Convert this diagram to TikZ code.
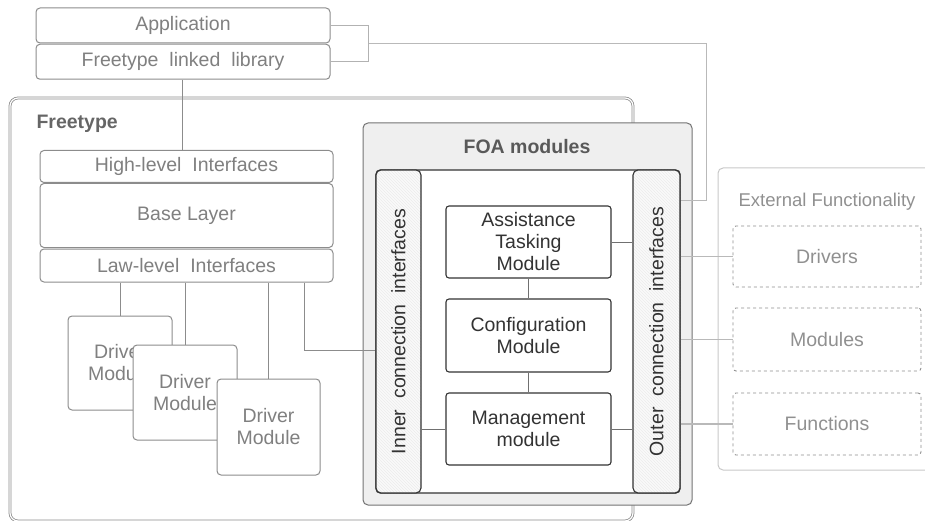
\documentclass[tikz,border=0pt]{standalone}
\usepackage{fontspec}
\setmainfont{Liberation Sans}
\usetikzlibrary{patterns,calc}
\definecolor{txtgray}{HTML}{808080}
\definecolor{boxgray}{HTML}{8C8C8C}
\definecolor{darkline}{HTML}{333333}
\definecolor{darktxt}{HTML}{333333}
\definecolor{foafill}{HTML}{EFEFEF}
\definecolor{extgray}{HTML}{C8C8C8}
\definecolor{dashgray}{HTML}{8F8F8F}
\definecolor{exttxt}{HTML}{909090}
\newcommand\wgap{\hspace{0.28em}}
\begin{document}
\begin{tikzpicture}[x=1pt,y=-1pt,
  font=\fontsize{19.5}{22}\selectfont,
  lbox/.style={draw=boxgray, line width=1pt, rounded corners=4pt, fill=white, inner sep=0pt, text=txtgray, align=center},
  mbox/.style={draw=darkline, line width=1.1pt, rounded corners=3pt, fill=white, align=center, text=darktxt, inner sep=0pt, minimum width=165pt},
  barbox/.style={draw=darkline, line width=1.1pt, rounded corners=5pt, preaction={fill=gray!4}, pattern=north west lines, pattern color=gray!15, inner sep=0pt},
  dbox/.style={draw=dashgray, dashed, line width=0.9pt, rounded corners=3pt, text=exttxt, inner sep=0pt, minimum width=188pt},
  conn/.style={draw=boxgray, line width=1pt},
  dconn/.style={draw=darkline!70, line width=1pt},
  extconn/.style={draw=gray!55, line width=1.3pt},
]
\useasboundingbox (0,0) rectangle (925,521);

% Freetype frame
\node[draw=boxgray, double=white, double distance=1.2pt, line width=0.8pt, rounded corners=8pt,
      minimum width=623pt, minimum height=423pt, inner sep=0pt] (ft) at (321.5,309.5) {};
\node[anchor=west, font=\fontsize{19.5}{22}\selectfont\bfseries, text=black!60] (ftlabel) at (33,124) {Freetype};

% Application stack
\node[lbox, minimum width=294pt, minimum height=35pt] (app) at (183,25.5) {Application};
\node[lbox, minimum width=294pt, minimum height=35pt] (lib) at (183,61.75) {Freetype\wgap{} linked\wgap{} library};

% Freetype layers
\node[lbox, minimum width=293pt, minimum height=32pt] (hl) at (186.5,166.5) {High-level\wgap{} Interfaces};
\node[lbox, minimum width=293pt, minimum height=64pt] (base) at (186.5,215.5) {Base Layer};
\node[lbox, minimum width=293pt, minimum height=33pt] (ll) at (186.5,265.5) {Law-level\wgap{} Interfaces};

\draw[conn] (lib.south -| 182,0) -- (hl.north -| 182,0);

% Driver modules
\node[lbox, minimum width=104pt, minimum height=94pt] (d1) at (120,363) {Driver\\Module};
\node[lbox, minimum width=104pt, minimum height=95pt] (d2) at (185,392.5) {Driver\\Module};
\node[lbox, minimum width=103pt, minimum height=96pt] (d3) at (268.5,427) {Driver\\Module};

\draw[conn] (ll.south -| d1.north) -- (d1.north);
\draw[conn] (ll.south -| d2.north) -- (d2.north);
\draw[conn] (ll.south -| d3.north) -- (d3.north);

% FOA modules
\node[draw=black!55, line width=1pt, fill=foafill, rounded corners=5pt, minimum width=329pt, minimum height=382pt, inner sep=0pt] (foa) at (527.5,314) {};
\node[font=\fontsize{19.5}{22}\selectfont\bfseries, text=black!65] (foatitle) at (527,147) {FOA modules};
\node[draw=darkline, line width=1.1pt, fill=white, rounded corners=4pt, minimum width=304pt, minimum height=323pt, inner sep=0pt] (core) at (528,331.5) {};
\node[barbox, minimum width=45pt, minimum height=323pt] (inner) at (398.5,331.5) {};
\node[barbox, minimum width=47pt, minimum height=323pt] (outer) at (656.5,331.5) {};
\node[rotate=90, text=darktxt] (innerlbl) at (inner.center) {Inner\wgap{} connection\wgap{} interfaces};
\node[rotate=90, text=darktxt] (outerlbl) at (outer.center) {Outer\wgap{} connection\wgap{} interfaces};

\node[mbox, minimum height=72pt] (atm) at (528.5,242) {Assistance\\Tasking\\Module};
\node[mbox, minimum height=73pt] (conf) at (528.5,335.5) {Configuration\\Module};
\node[mbox, minimum height=72pt] (mgmt) at (528.5,429) {Management\\module};

\draw[dconn] (atm.south) -- (conf.north);
\draw[dconn] (conf.south) -- (mgmt.north);
\draw[dconn] (atm.east) -- (atm.east -| outer.west);
\draw[dconn] (mgmt.east) -- (mgmt.east -| outer.west);
\draw[dconn] (mgmt.west -| inner.east) -- (mgmt.west);

% link from law-level interfaces to inner connection interfaces
\draw[conn] ([xshift=-29pt]ll.south east) |- ([yshift=-18.5pt]inner.west);

% bracket from application / library to outer interfaces
\coordinate (br) at ($(app.east)!0.5!(lib.east)+(38,0)$);
\draw[conn, draw=gray!60] (app.east) -| (br) |- (lib.east);
\draw[conn, draw=gray!55] (br) -| ([xshift=26pt,yshift=-31pt]outer.north east) -- ([yshift=-31pt]outer.north east);

% External functionality
\draw[draw=extgray, line width=1pt, rounded corners=5pt] (935,168) -| (718,470) -- (935,470);
\node[text=exttxt, font=\fontsize{18.5}{22}\selectfont] (exttitle) at (827,202) {External Functionality};
\node[dbox, minimum height=61pt] (drv) at (827,256.5) {Drivers};
\node[dbox, minimum height=63pt] (mods) at (827,339.5) {Modules};
\node[dbox, minimum height=62pt] (funcs) at (827,424) {Functions};

\draw[extconn] (drv.west -| outer.east) -- (drv.west);
\draw[extconn] (mods.west -| outer.east) -- (mods.west);
\draw[extconn] (funcs.west -| outer.east) -- (funcs.west);
\end{tikzpicture}
\end{document}
